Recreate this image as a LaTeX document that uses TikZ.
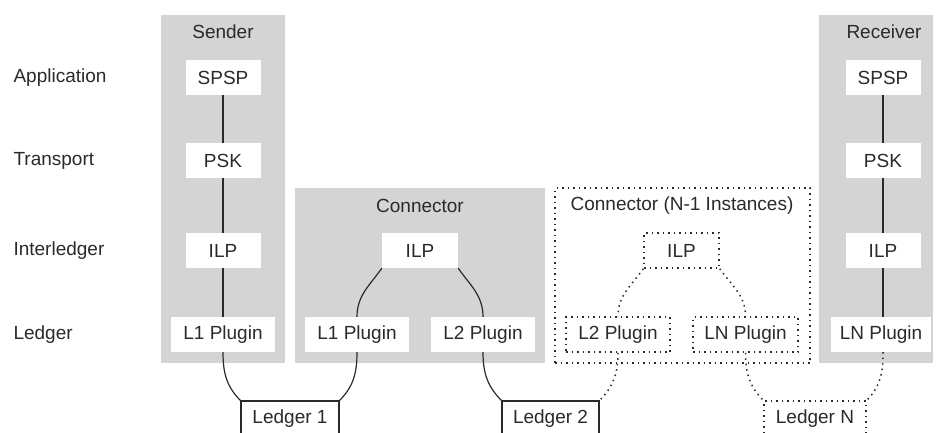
\documentclass[tikz,border=0pt]{standalone}
\usepackage{fontspec}
\setmainfont{Liberation Sans}
\usepackage{tikz}
\usepackage{xcolor}
\definecolor{panelgray}{HTML}{D4D4D4}
\definecolor{inkgray}{HTML}{2A2A2A}
\tikzset{
    layer-panel/.style = {fill=panelgray, rectangle, inner sep=0pt},
    layer-box/.style = {fill=white, rectangle, inner sep=0pt, minimum height=35pt},
    ledger-box/.style = {draw=inkgray, line width=1.2pt, fill=white, rectangle, inner sep=0pt, minimum height=35pt},
    dotted-box/.style = {draw=inkgray, line width=1.5pt, dash pattern=on 1.5pt off 4pt, rectangle, inner sep=0pt, minimum height=35pt},
    link/.style = {draw=inkgray, line width=1.2pt},
    dotted-link/.style = {draw=inkgray, line width=1.5pt, dash pattern=on 1.5pt off 4pt},
}

\begin{document}
\begin{tikzpicture}[x=1pt, y=-1pt, every node/.style={font=\fontsize{19}{23}\selectfont, text=inkgray}]
\useasboundingbox (0,0) rectangle (938,432);
\clip (0,0) rectangle (938,432);

% layer names
\node[anchor=west] (app) at (10,77.5) {Application};
\node[anchor=west] (transport) at (10,160.5) {Transport};
\node[anchor=west] (interledger) at (10,250.5) {Interledger};
\node[anchor=west] (ledger) at (10,334.5) {Ledger};

% panels
\node[layer-panel, minimum width=124pt, minimum height=348pt] (sender) at (223,189) {};
\node[layer-panel, minimum width=250pt, minimum height=175pt] (connector) at (420,275.5) {};
\node[dotted-box, minimum width=255pt, minimum height=175pt, line width=1.8pt] (connector-n) at (682.5,275.5) {};
\node[layer-panel, minimum width=114pt, minimum height=348pt] (receiver) at (876,189) {};
\node (sender-title) at (223,32) {Sender};
\node (connector-title) at (420,206) {Connector};
\node (connector-n-title) at (682,206) {Connector (N-1 Instances)};
\node (receiver-title) at (884,32) {Receiver};

% sender
\node[layer-box, minimum width=75pt] (s-spsp) at (223,77.5) {SPSP};
\node[layer-box, minimum width=75pt] (s-psk) at (223,160.5) {PSK};
\node[layer-box, minimum width=75pt] (s-ilp) at (223,250.5) {ILP};
\node[layer-box, minimum width=104pt] (s-plugin) at (223,334.5) {L1 Plugin};

% connector
\node[layer-box, minimum width=76pt] (c-ilp) at (420,250.5) {ILP};
\node[layer-box, minimum width=104pt] (c-plugin-1) at (357,334.5) {L1 Plugin};
\node[layer-box, minimum width=104pt] (c-plugin-2) at (483,334.5) {L2 Plugin};

% connector (N-1 instances)
\node[dotted-box, minimum width=75pt] (n-ilp) at (681.5,250.5) {ILP};
\node[dotted-box, minimum width=104pt] (n-plugin-2) at (618,334.5) {L2 Plugin};
\node[dotted-box, minimum width=105pt] (n-plugin-n) at (745.5,334.5) {LN Plugin};

% receiver
\node[layer-box, minimum width=75pt] (r-spsp) at (883,77.5) {SPSP};
\node[layer-box, minimum width=75pt] (r-psk) at (883,160.5) {PSK};
\node[layer-box, minimum width=75pt] (r-ilp) at (883,250.5) {ILP};
\node[layer-box, minimum width=100pt] (r-plugin) at (881,334.5) {LN Plugin};

% ledgers
\node[ledger-box, minimum width=98pt] (ledger-1) at (290,418.5) {Ledger 1};
\node[ledger-box, minimum width=97pt] (ledger-2) at (550.5,418.5) {Ledger 2};
\node[dotted-box, minimum width=102pt] (ledger-n) at (815,418.5) {Ledger N};

% stacks
\draw[link] (s-spsp) -- (s-psk) -- (s-ilp) -- (s-plugin);
\draw[link] (r-spsp) -- (r-psk) -- (r-ilp) -- (r-ilp |- r-plugin.north);
\draw[link] (c-ilp.south west) to[out=-125, in=90] (c-plugin-1.north);
\draw[link] (c-ilp.south east) to[out=-55, in=90] (c-plugin-2.north);
\draw[dotted-link] (n-ilp.south west) to[out=-125, in=90] (n-plugin-2.north);
\draw[dotted-link] (n-ilp.south east) to[out=-55, in=90] (n-plugin-n.north);

% plugins to ledgers
\draw[link] (s-plugin.south) to[out=-90, in=135] (ledger-1.north west);
\draw[link] (c-plugin-1.south) to[out=-90, in=45] (ledger-1.north east);
\draw[link] (c-plugin-2.south) to[out=-90, in=135] (ledger-2.north west);
\draw[dotted-link] (n-plugin-2.south) to[out=-90, in=45] (ledger-2.north east);
\draw[dotted-link] (n-plugin-n.south) to[out=-90, in=135] (ledger-n.north west);
\draw[dotted-link] (r-ilp |- r-plugin.south) to[out=-90, in=45] (ledger-n.north east);
\end{tikzpicture}
\end{document}
